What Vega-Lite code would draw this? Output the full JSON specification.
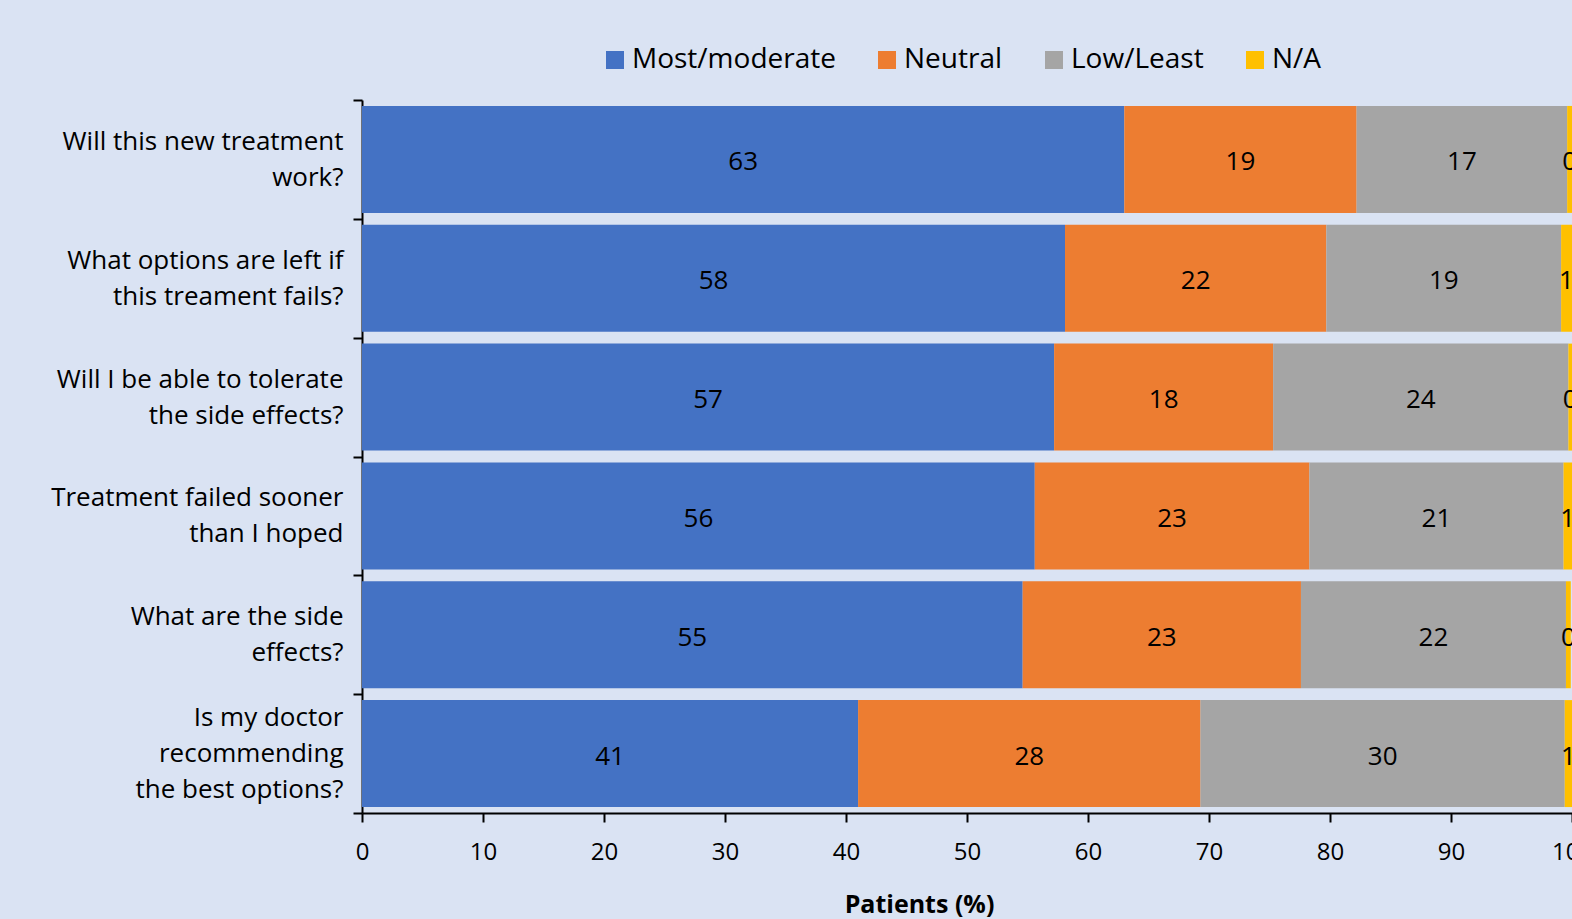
{
  "$schema": "https://vega.github.io/schema/vega-lite/v6.json",
  "autosize": "none",
  "width": 1210,
  "height": 713,
  "padding": {"left": 362, "top": 100, "right": 0, "bottom": 106},
  "background": "#DAE3F3",
  "config": {
    "view": {"stroke": null},
    "font": "Open Sans",
    "axis": {"labelFont": "Open Sans", "titleFont": "Open Sans", "labelColor": "#000", "titleColor": "#000", "domainColor": "#000", "tickColor": "#000", "domainWidth": 2, "tickWidth": 2, "grid": false},
    "legend": {"labelFont": "Open Sans", "labelColor": "#000"}
  },
  "data": {
    "values": [
      {"question": "Will this new treatment\nwork?", "rating": "Most/moderate", "pct": 63.0},
      {"question": "Will this new treatment\nwork?", "rating": "Neutral", "pct": 19.2},
      {"question": "Will this new treatment\nwork?", "rating": "Low/Least", "pct": 17.4},
      {"question": "Will this new treatment\nwork?", "rating": "N/A", "pct": 0.4},
      {"question": "What options are left if\nthis treament fails?", "rating": "Most/moderate", "pct": 58.1},
      {"question": "What options are left if\nthis treament fails?", "rating": "Neutral", "pct": 21.6},
      {"question": "What options are left if\nthis treament fails?", "rating": "Low/Least", "pct": 19.4},
      {"question": "What options are left if\nthis treament fails?", "rating": "N/A", "pct": 0.9},
      {"question": "Will I be able to tolerate\nthe side effects?", "rating": "Most/moderate", "pct": 57.2},
      {"question": "Will I be able to tolerate\nthe side effects?", "rating": "Neutral", "pct": 18.1},
      {"question": "Will I be able to tolerate\nthe side effects?", "rating": "Low/Least", "pct": 24.4},
      {"question": "Will I be able to tolerate\nthe side effects?", "rating": "N/A", "pct": 0.3},
      {"question": "Treatment failed sooner\nthan I hoped", "rating": "Most/moderate", "pct": 55.6},
      {"question": "Treatment failed sooner\nthan I hoped", "rating": "Neutral", "pct": 22.7},
      {"question": "Treatment failed sooner\nthan I hoped", "rating": "Low/Least", "pct": 21.0},
      {"question": "Treatment failed sooner\nthan I hoped", "rating": "N/A", "pct": 0.7},
      {"question": "What are the side\neffects?", "rating": "Most/moderate", "pct": 54.6},
      {"question": "What are the side\neffects?", "rating": "Neutral", "pct": 23.0},
      {"question": "What are the side\neffects?", "rating": "Low/Least", "pct": 21.9},
      {"question": "What are the side\neffects?", "rating": "N/A", "pct": 0.4},
      {"question": "Is my doctor\nrecommending\nthe best options?", "rating": "Most/moderate", "pct": 41.0},
      {"question": "Is my doctor\nrecommending\nthe best options?", "rating": "Neutral", "pct": 28.3},
      {"question": "Is my doctor\nrecommending\nthe best options?", "rating": "Low/Least", "pct": 30.1},
      {"question": "Is my doctor\nrecommending\nthe best options?", "rating": "N/A", "pct": 0.6}
    ]
  },
  "transform": [
    {"window": [{"op": "row_number", "as": "stack_rank"}], "groupby": ["question"]}
  ],
  "encoding": {
    "y": {
      "field": "question",
      "type": "nominal",
      "sort": null,
      "scale": {"paddingInner": 0, "paddingOuter": 0},
      "axis": {
        "title": null,
        "tickBand": "extent",
        "tickSize": 9,
        "labelPadding": 10,
        "labelFontSize": 26,
        "labelLineHeight": 36,
        "labelLimit": 400,
        "labelOffset": {
          "condition": {"test": "length(split(datum.label, '\\n')) > 2", "value": -36},
          "value": -18
        },
        "labelExpr": "split(datum.label, '\\n')"
      }
    },
    "x": {
      "field": "pct",
      "type": "quantitative",
      "stack": "zero",
      "scale": {"domain": [0, 100], "nice": false},
      "axis": {
        "title": "Patients (%)",
        "values": [0, 10, 20, 30, 40, 50, 60, 70, 80, 90, 100],
        "tickSize": 9,
        "labelPadding": 18,
        "labelFontSize": 24,
        "labelFlush": false,
        "labelOverlap": false,
        "titleFontSize": 25,
        "titleFontWeight": "bold",
        "titleAnchor": "start",
        "titleAlign": "center",
        "titleBaseline": "middle",
        "titleX": 557,
        "titleY": 91
      }
    },
    "order": {"field": "stack_rank", "type": "quantitative"}
  },
  "layer": [
    {
      "mark": {"type": "bar", "height": {"band": 0.9}},
      "encoding": {
        "color": {
          "field": "rating",
          "type": "nominal",
          "sort": ["Most/moderate", "Neutral", "Low/Least", "N/A"],
          "scale": {"domain": ["Most/moderate", "Neutral", "Low/Least", "N/A"], "range": ["#4472C4", "#ED7D31", "#A5A5A5", "#FFC000"]},
          "legend": {
            "title": null,
            "orient": "none",
            "direction": "horizontal",
            "legendX": 239,
            "legendY": -54,
            "symbolType": "square",
            "symbolSize": 324,
            "symbolStrokeWidth": 0,
            "labelFontSize": 28,
            "labelLimit": 400,
            "labelOffset": 3,
            "columnPadding": 37
          }
        }
      }
    },
    {
      "mark": {"type": "text", "fontSize": 26, "align": "center", "baseline": "middle", "dy": 3, "color": "#000000"},
      "encoding": {
        "x": {"field": "pct", "type": "quantitative", "stack": "zero", "bandPosition": 0.5},
        "text": {"field": "pct", "type": "quantitative", "format": ".0f"},
        "detail": {"field": "rating", "type": "nominal"}
      }
    }
  ]
}
